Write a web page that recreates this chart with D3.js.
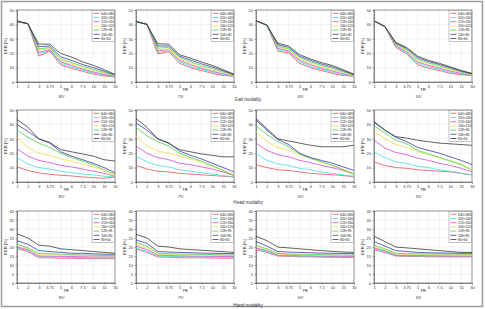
<!DOCTYPE html>
<html>
<head>
<meta charset="utf-8">
<script src="https://cdn.jsdelivr.net/npm/d3@7"></script>
<style>
  body { margin: 0; background: #fff; }
  svg { display: block; font-family: "Liberation Sans", Arial, sans-serif; }
</style>
</head>
<body>
<svg id="chart" width="485" height="309"></svg>
<script>
const xLabels = ["1", "2", "3", "3.75", "5", "6", "7.5", "10", "15", "30"]
const resolutions = ["640×480", "320×240", "213×160", "160×120", "128×96", "106×80", "80×60"]
const colors = ["#e8505a", "#46dede", "#d24ad2", "#eee04a", "#4cd24c", "#3a3aa8", "#3a3a3a"]
const angles = ["85°", "75°", "65°", "55°"]
const modalities = ["Gait modality", "Head modality", "Hand modality"]
const yTicksGaitHead = [0, 10, 20, 30, 40, 50]
const yTicksHand = [0, 5, 10, 15, 20, 25, 30, 35, 40]

// EER [%] per resolution (rows follow resolutions order)
const gait85 = [
  [42, 40.5, 18, 21.5, 12, 9.5, 7.5, 5.5, 4.2, 3.5],
  [42, 40.5, 19.5, 22, 13, 10.5, 8.3, 6.3, 4.8, 3.8],
  [42, 40.5, 20.5, 22.5, 14, 11.5, 9, 7, 5.3, 4],
  [42, 40.5, 22, 23.5, 15, 12.5, 10, 8, 6, 4.3],
  [42, 40.5, 23, 24, 16, 13.5, 11, 8.8, 6.6, 4.6],
  [42, 40.5, 24.5, 25, 17.5, 15, 12.2, 10, 7.5, 5],
  [42.5, 40.5, 26.3, 26.3, 19.8, 17.4, 14, 11.6, 8.6, 5.3]
]
const gait75 = [
  [42, 40, 19.5, 21, 13, 10, 8, 6, 4.5, 4],
  [42, 40.5, 20.5, 21.5, 14, 11, 8.8, 6.8, 5, 4.2],
  [42, 40, 21.5, 22.5, 15, 12, 9.6, 7.5, 5.6, 4.4],
  [42, 40, 22.5, 23, 16, 13, 10.5, 8.3, 6.3, 4.6],
  [42, 40, 23.5, 24, 17, 14, 11.5, 9.3, 7, 4.9],
  [42, 40, 25, 25, 18, 15.2, 12.7, 10.4, 7.8, 5.2],
  [42, 40, 26.5, 26.3, 19, 16.5, 14, 11.5, 8.5, 5.5]
]
const gait65 = [
  [42.5, 39.5, 21.5, 20, 13, 10, 8, 6, 4.5, 4],
  [42.5, 39.5, 22.5, 21, 14, 11, 8.8, 6.8, 5, 4.2],
  [42.5, 39.5, 23.5, 21.5, 15, 12, 9.6, 7.6, 5.6, 4.4],
  [42.5, 39.5, 24.3, 22.5, 16, 13, 10.5, 8.5, 6.3, 4.6],
  [42.5, 39.5, 25, 23, 17, 14, 11.5, 9.5, 7, 4.9],
  [42.5, 39.5, 26, 24, 18, 15, 12.5, 10.5, 7.8, 5.2],
  [42.5, 39.5, 27, 25, 19, 16, 13.5, 11.5, 8.5, 5.5]
]
const gait55 = [
  [42.5, 38.5, 24, 19.5, 12, 9.5, 8, 6, 5, 4.5],
  [42.5, 38.5, 24.7, 20.3, 13, 10.5, 8.8, 6.8, 5.5, 4.7],
  [42.5, 38.5, 25.3, 21, 14, 11.5, 9.6, 7.6, 6, 5],
  [42.5, 38.5, 25.8, 21.8, 15, 12.5, 10.5, 8.4, 6.6, 5.2],
  [42.5, 38.5, 26.3, 22.5, 16, 13.3, 11.3, 9.2, 7.1, 5.5],
  [42.5, 38.5, 27, 23.3, 17, 14.2, 12.2, 9.9, 7.6, 5.8],
  [42.5, 38.5, 27.5, 24, 18, 15, 13, 10.5, 8, 6]
]
const head85 = [
  [10.5, 8, 6.3, 5.3, 4.7, 4.2, 3.5, 3, 2.6, 3.5],
  [17, 12.5, 10, 9, 7.5, 6.5, 5.5, 5, 4, 3.5],
  [23, 18, 15, 13.5, 11.5, 10.5, 9, 7.5, 6, 4],
  [31, 24, 20, 18.5, 16, 14.5, 12.5, 10.5, 7.5, 5],
  [36, 31, 27, 24, 20, 17, 14.5, 12, 8.5, 5.5],
  [40, 35, 30, 27, 21, 18, 15.5, 13, 10, 6.5],
  [43.5, 38, 30, 27.5, 22.5, 21, 19.5, 18, 15.5, 14.5]
]
const head75 = [
  [11.5, 9, 7.5, 7, 6, 5.5, 5, 4.5, 4, 3.5],
  [18, 14, 11.5, 10.5, 8.5, 7.5, 6.5, 5.5, 4.5, 3.5],
  [25, 20, 17, 15.5, 13, 12, 10.5, 9, 7, 4.5],
  [32, 25, 21.5, 20, 18, 16, 13.5, 11, 8, 5],
  [38, 32, 28, 25, 20, 17, 14.5, 11.5, 8, 4.5],
  [41, 36, 30, 27, 21.5, 18.5, 16, 13, 10, 7],
  [44, 38, 30, 27, 22.5, 21, 19.5, 18.5, 17.5, 17.5]
]
const head65 = [
  [12, 10, 8.5, 8, 7, 6, 5.5, 5, 4.5, 3.5],
  [20, 15, 12.5, 11.5, 9.5, 8.5, 7, 6, 5, 4],
  [27, 22, 19, 17.5, 15, 13.5, 11.5, 10, 8, 5.5],
  [35, 28, 24, 22, 19, 16.5, 14, 11.5, 9, 6],
  [39, 33, 28, 24.5, 19.5, 16.5, 14, 11.5, 8.5, 5.5],
  [43, 36, 29.5, 26, 20, 17, 15, 13, 10.5, 8],
  [44, 37, 30, 28.5, 27, 25.5, 24.5, 24.5, 24.5, 25.5]
]
const head55 = [
  [14, 11.5, 10, 9.5, 8.5, 8, 7.5, 7, 6, 5],
  [21, 17, 14, 13, 11, 10, 8.5, 7.5, 6, 5],
  [29, 23.5, 20.5, 19, 16.5, 15, 13, 11.5, 9.5, 7],
  [35, 30, 26, 24, 21, 19, 17, 15, 12.5, 9.5],
  [39, 34, 29, 26.5, 22, 19.5, 17, 14.5, 12, 8],
  [41.5, 36, 31, 28, 24, 22, 20, 17.5, 15, 12],
  [42, 36, 31.5, 30.5, 29, 28, 27, 26.5, 26, 25.5]
]
const hand85 = [
  [19, 17.5, 14, 14, 13.8, 13.7, 13.6, 13.5, 13.5, 13.5],
  [19.5, 18, 14.5, 14.4, 14.3, 14.2, 14.1, 14, 14, 14],
  [20, 18.5, 15, 14.9, 14.8, 14.7, 14.6, 14.5, 14.5, 14.5],
  [21, 19, 16, 15.8, 15.5, 15.3, 15.2, 15, 15, 15],
  [21.5, 19.5, 16.5, 16.3, 16, 15.8, 15.6, 15.5, 15.3, 15.2],
  [23.5, 21.5, 18, 17.5, 17, 16.5, 16.5, 16.2, 16, 16],
  [27.3, 25, 21, 20.5, 19, 18.5, 18, 17.5, 17, 16.5]
]
const hand75 = [
  [19, 17, 14.5, 14.3, 14.1, 14, 14, 13.9, 13.8, 13.8],
  [19.5, 17.5, 15, 14.8, 14.6, 14.5, 14.4, 14.3, 14.2, 14.2],
  [20.5, 18.5, 15.5, 15.3, 15.1, 15, 14.9, 14.8, 14.7, 14.7],
  [21.5, 19.5, 16, 15.8, 15.6, 15.5, 15.4, 15.3, 15.2, 15.2],
  [22.5, 20.5, 16.5, 16.3, 16.1, 16, 15.9, 15.8, 15.7, 15.6],
  [24, 22, 17.5, 17.2, 17, 16.8, 16.6, 16.5, 16.4, 16.3],
  [27, 25, 20.5, 20, 19, 18.6, 18.2, 17.8, 17.4, 17]
]
const hand65 = [
  [18.5, 17, 15, 14.8, 14.6, 14.5, 14.4, 14.3, 14.2, 14.2],
  [19, 17.5, 15.3, 15.1, 14.9, 14.8, 14.7, 14.6, 14.5, 14.5],
  [19.5, 18, 15.6, 15.4, 15.2, 15.1, 15, 14.9, 14.8, 14.8],
  [20.5, 18.5, 16, 15.8, 15.6, 15.5, 15.4, 15.3, 15.2, 15.2],
  [21, 19, 16.5, 16.2, 16, 15.9, 15.8, 15.7, 15.6, 15.5],
  [23, 20.5, 17.5, 17.2, 17, 16.8, 16.6, 16.5, 16.4, 16.3],
  [26, 23.5, 20, 19.5, 19, 18.5, 18, 17.6, 17.2, 17]
]
const hand55 = [
  [18.5, 17, 15, 14.8, 14.7, 14.6, 14.6, 14.5, 14.5, 14.5],
  [19, 17.5, 15.2, 15.1, 15, 15, 15, 15, 15, 15],
  [19.5, 18, 15.5, 15.4, 15.3, 15.2, 15.1, 15, 15, 15],
  [20, 18.5, 16, 15.8, 15.7, 15.6, 15.6, 15.5, 15.5, 15.5],
  [21, 19, 16.5, 16.3, 16.2, 16.1, 16.1, 16, 16, 16],
  [23, 20.5, 18, 17.5, 17, 16.8, 16.7, 16.6, 16.5, 16.5],
  [26, 23, 20, 19.5, 19, 18.5, 18, 17.5, 17, 17]
]

const panels = [
  [gait85, gait75, gait65, gait55],
  [head85, head75, head65, head55],
  [hand85, hand75, hand65, hand55]
]

const svg = d3.select("#chart")
svg.append("rect")
  .attr("x", 1.5).attr("y", 1.5).attr("width", 481).attr("height", 305)
  .attr("fill", "none").attr("stroke", "#9a9a9a").attr("stroke-width", 1.5)

const plotLeft = [17, 136, 256, 374]
const plotTop = [10, 110, 211]
const plotW = 98, plotH = 72
const rowLabelY = [101, 204, 307]

panels.forEach((row, r) => {
  const yMax = r === 2 ? 40 : 50
  const yTicks = r === 2 ? yTicksHand : yTicksGaitHead

  svg.append("text")
    .attr("x", 248).attr("y", rowLabelY[r])
    .attr("text-anchor", "middle")
    .attr("font-size", 4.6).attr("fill", "#333")
    .text(modalities[r])

  row.forEach((series, c) => {
    const g = svg.append("g")
      .attr("transform", `translate(${plotLeft[c]},${plotTop[r]})`)

    const x = d3.scalePoint().domain(xLabels).range([0, plotW])
    const y = d3.scaleLinear().domain([0, yMax]).range([plotH, 0])

    // grid
    g.append("g").selectAll("line").data(xLabels).join("line")
      .attr("x1", d => x(d)).attr("x2", d => x(d))
      .attr("y1", 0).attr("y2", plotH)
      .attr("stroke", "#e6e6e6").attr("stroke-width", 0.5)
    g.append("g").selectAll("line").data(yTicks).join("line")
      .attr("x1", 0).attr("x2", plotW)
      .attr("y1", d => y(d)).attr("y2", d => y(d))
      .attr("stroke", "#e6e6e6").attr("stroke-width", 0.5)

    // axes
    const xAxis = g.append("g")
      .attr("transform", `translate(0,${plotH})`)
      .call(d3.axisBottom(x).tickSize(1.5).tickPadding(1.5))
    const yAxis = g.append("g")
      .call(d3.axisLeft(y).tickValues(yTicks).tickSize(1.5).tickPadding(1.5))
    ;[xAxis, yAxis].forEach(a => {
      a.select(".domain").attr("stroke", "#555").attr("stroke-width", 0.6)
      a.selectAll(".tick line").attr("stroke", "#555").attr("stroke-width", 0.5)
      a.selectAll(".tick text").attr("font-size", 4).attr("fill", "#333").attr("font-family", null)
    })

    g.append("rect")
      .attr("width", plotW).attr("height", plotH)
      .attr("fill", "none").attr("stroke", "#555").attr("stroke-width", 0.6)

    const line = d3.line()
      .x((d, i) => x(xLabels[i]))
      .y(d => y(d))

    g.append("g").selectAll("path").data(series).join("path")
      .attr("d", line)
      .attr("fill", "none")
      .attr("stroke", (d, i) => colors[i])
      .attr("stroke-width", 0.8)

    // legend
    const lg = g.append("g").attr("transform", `translate(${plotW - 23},0.5)`)
    lg.append("rect")
      .attr("width", 22.5).attr("height", 31)
      .attr("fill", "#fff").attr("stroke", "#666").attr("stroke-width", 0.4)
    resolutions.forEach((name, i) => {
      const ly = 2.8 + i * 4.2
      lg.append("line")
        .attr("x1", 1.5).attr("x2", 7.5).attr("y1", ly).attr("y2", ly)
        .attr("stroke", colors[i]).attr("stroke-width", 0.8)
      lg.append("text")
        .attr("x", 9).attr("y", ly + 1.2)
        .attr("font-size", 3.4).attr("fill", "#222")
        .text(name)
    })

    // axis labels
    g.append("text")
      .attr("x", plotW / 2).attr("y", plotH + 9)
      .attr("text-anchor", "middle").attr("font-size", 4.2).attr("fill", "#222")
      .text("TR")
    g.append("text")
      .attr("transform", `translate(-10,${plotH / 2}) rotate(-90)`)
      .attr("text-anchor", "middle").attr("font-size", 4.2).attr("fill", "#222")
      .text("EER [%]")

    // panel caption
    g.append("text")
      .attr("x", plotW / 2 - 4).attr("y", plotH + 16)
      .attr("text-anchor", "middle").attr("font-size", 4.2).attr("fill", "#333")
      .text(angles[c])
  })
})
</script>
</body>
</html>
